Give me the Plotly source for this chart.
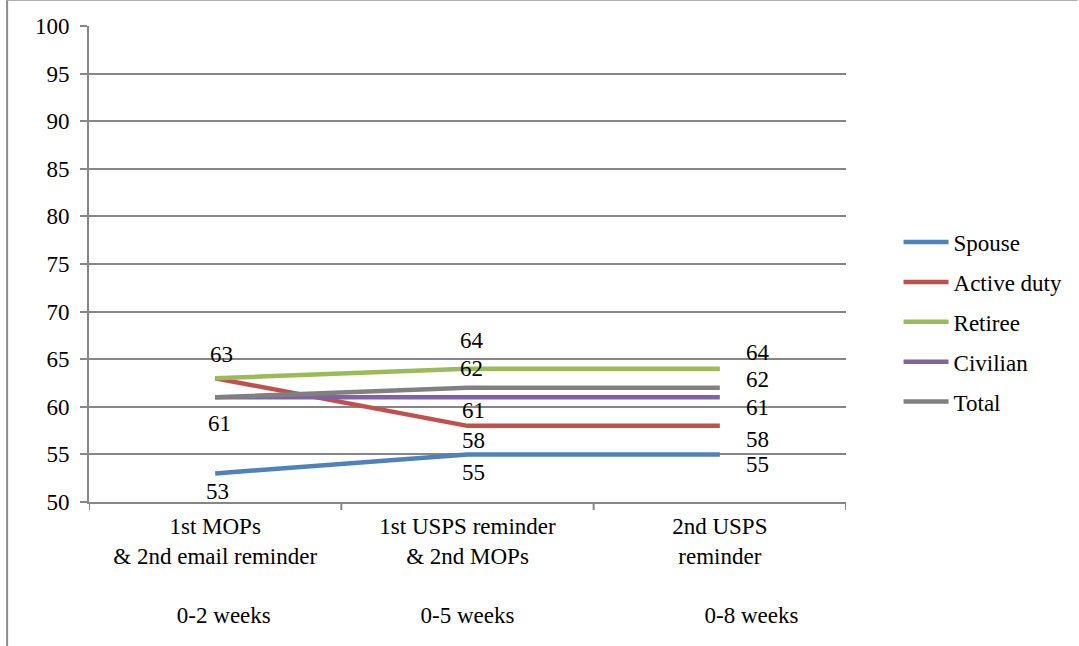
import plotly.graph_objects as go

# Response rate (%) by mailing stage
stages = [
    "1st MOPs<br>& 2nd email reminder<br> <br>\u00a0\u00a0\u00a00-2 weeks",
    "1st USPS reminder<br>& 2nd MOPs<br> <br>0-5 weeks",
    "2nd USPS<br>reminder<br> <br>\u00a0\u00a0\u00a0\u00a0\u00a0\u00a0\u00a0\u00a0\u00a0\u00a0\u00a00-8 weeks",
]
spouse = [53, 55, 55]
active_duty = [63, 58, 58]
retiree = [63, 64, 64]
civilian = [61, 61, 61]
total = [61, 62, 62]
y_ticks = [50, 55, 60, 65, 70, 75, 80, 85, 90, 95, 100]

series = [
    ("Spouse", spouse, "#4F81BD"),
    ("Active duty", active_duty, "#C0504D"),
    ("Retiree", retiree, "#9BBB59"),
    ("Civilian", civilian, "#8064A2"),
    ("Total", total, "#808080"),
]

# Data-label placement per series and stage: (xshift, yshift); None = no label
label_offsets = {
    "Spouse": [(2, -18), (6, -18), (38, -10)],
    "Active duty": [None, (6, -15), (38, -14)],
    "Retiree": [(6, 24), (4, 28), (38, 16)],
    "Civilian": [None, (6, -13), (38, -10)],
    "Total": [(4, -26), (4, 19), (38, 8)],
}

FONT = "Liberation Serif, Times New Roman, serif"
FS = 23
xs = [0, 1, 2]

fig = go.Figure()
for name, vals, color in series:
    fig.add_trace(go.Scatter(
        x=xs, y=vals, mode="lines", name=name,
        line=dict(color=color, width=4.5),
        legendgroup=name,
    ))

annotations = []
for name, vals, color in series:
    for xi, v, off in zip(xs, vals, label_offsets[name]):
        if off is None:
            continue
        annotations.append(dict(
            x=xi, y=v, xref="x", yref="y", text=str(v), showarrow=False,
            xshift=off[0], yshift=off[1],
            font=dict(family=FONT, size=FS, color="#000000"),
        ))

fig.update_layout(
    width=1079, height=646,
    margin=dict(l=89, r=232, t=26, b=144),
    paper_bgcolor="white", plot_bgcolor="white",
    font=dict(family=FONT, size=FS, color="#000000"),
    showlegend=True,
    legend=dict(
        x=1.068, y=0.378, xanchor="left", yanchor="middle",
        font=dict(family=FONT, size=FS, color="#000000"),
        tracegroupgap=7, itemwidth=45,
        bgcolor="rgba(0,0,0,0)",
    ),
    annotations=annotations,
    shapes=[
        dict(type="line", xref="paper", yref="paper",
             x0=-82 / 758, x1=-82 / 758, y0=1 + 26 / 476, y1=-144 / 476,
             line=dict(color="#8c8c8c", width=2)),
        dict(type="line", xref="paper", yref="paper",
             x0=-82 / 758, x1=1 + 232 / 758, y0=1 + 25.5 / 476, y1=1 + 25.5 / 476,
             line=dict(color="#b0b0b0", width=1)),
    ],
)

fig.update_xaxes(
    range=[-0.5, 2.5], tickmode="array", tickvals=xs, ticktext=stages,
    showgrid=False, showline=True, linecolor="#868686", linewidth=2,
    ticks="", zeroline=False, ticklabelstandoff=2,
    tickfont=dict(family=FONT, size=FS, color="#000000"),
)
# Category boundary tick marks on the x axis
for b in [-0.5, 0.5, 1.5, 2.5]:
    fig.add_shape(type="line", xref="x", yref="paper", x0=b, x1=b,
                  y0=0, y1=-8 / 476, line=dict(color="#868686", width=2))

fig.update_yaxes(
    range=[50, 100], tickmode="array", tickvals=y_ticks,
    showgrid=True, gridcolor="#868686", gridwidth=2,
    showline=True, linecolor="#868686", linewidth=2,
    ticks="outside", ticklen=7, tickwidth=2, tickcolor="#868686",
    zeroline=False, ticklabelstandoff=6,
    tickfont=dict(family=FONT, size=FS, color="#000000"),
)

fig.write_html("out.html")
